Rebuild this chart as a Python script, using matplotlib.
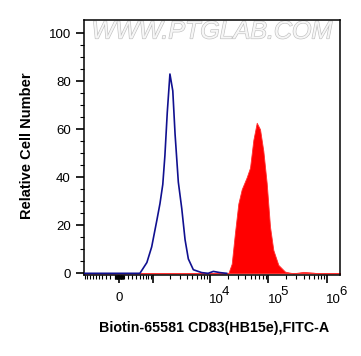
import numpy as np
import matplotlib
matplotlib.use("Agg")
import matplotlib.pyplot as plt
import matplotlib.patheffects as pe

plt.rcParams['font.family'] = ['Liberation Sans', 'DejaVu Sans']

# control (isotype) histogram - blue outline
blue_x = [-1100, 370, 510, 740, 930, 1170, 1340, 1510, 1650, 1820, 2030, 2280, 2500,
          2850, 3270, 3730, 4250, 5180, 7200, 9300, 11400, 14800, 19300]
blue_y = [0, 0, 0, 4.5, 11, 22, 29, 37, 49, 67, 83, 76, 58,
          38, 27, 14, 6, 1.5, 0.3, 0, 0.8, 0.3, 0]

# stained sample histogram - red fill
red_x = [-1100, 20570, 23530, 26770, 30500, 34890, 42440, 48370, 55090, 63000, 71730,
         81670, 93300, 106300, 121100, 147600, 192000, 266200, 394200, 577700, 703600, 1.8e6]
red_y = [0, 0, 4, 17, 29, 35, 40, 44, 55.5, 62.7, 60,
         51, 37.5, 19.4, 9.7, 3.5, 0.7, 0, 0.6, 0.3, 0, 0]

x_major = [0, 1e3, 1e4, 1e5, 1e6]
decades = [4, 5, 6]
y_major = [0, 20, 40, 60, 80, 100]

c = 281.0
def fwd(x):
    return np.arcsinh(np.asarray(x) / (2 * c)) / np.log(10)
def inv(y):
    return 2 * c * np.sinh(np.asarray(y) * np.log(10))

fig = plt.figure(figsize=(3.61, 3.56), dpi=100)
ax = fig.add_axes([84/361, 1-275/356, 256/361, 255/356])
ax.set_xscale('function', functions=(fwd, inv))

ax.fill_between(red_x, red_y, 0, color='#ff0000', lw=0.6, edgecolor='#ff3030', zorder=2)
ax.plot(blue_x, blue_y, color='#101090', lw=1.2, zorder=3)

ax.set_xlim(inv(-0.602), inv(3.774))
ax.set_ylim(-0.7, 105.5)

# minor ticks
minors = []
for m in [1, 2]:
    for k in range(1, 10):
        minors += [k * 10**m, -k * 10**m]
minors += [-1000]
for m in [3, 4, 5]:
    for k in range(2, 10):
        minors.append(k * 10**m)
ax.set_xticks(x_major)
ax.set_xticklabels([])
ax.set_xticks(minors, minor=True)
ax.set_xticklabels([], minor=True)
ax.set_yticks(y_major)
ax.set_yticks(np.arange(0, 105, 5), minor=True)

ax.tick_params(axis='both', which='major', length=6, width=1.2, labelsize=9.5, color='black')
ax.tick_params(axis='both', which='minor', length=3, width=0.8, color='black')
ax.tick_params(axis='y', which='major', pad=3.5)
for s in ax.spines.values():
    s.set_linewidth(1.1)

# x tick labels: "0" and 10 with full-size exponents
ax.annotate('0', xy=(0, 0), xycoords=('data', 'axes fraction'), xytext=(0, -23),
            textcoords='offset pixels', ha='center', va='center', fontsize=9.5)
for n in decades:
    ax.annotate('10', xy=(10.0**n, 0), xycoords=('data', 'axes fraction'), xytext=(-1, -25),
                textcoords='offset pixels', ha='left', va='center', fontsize=9.5)
    ax.annotate(str(n), xy=(10.0**n, 0), xycoords=('data', 'axes fraction'), xytext=(12, -17),
                textcoords='offset pixels', ha='left', va='center', fontsize=9.5)

fig.text(27/361, 1-146/356, 'Relative Cell Number', rotation=90, ha='center', va='center',
         fontsize=10.5, fontweight='bold')
fig.text(214/361, 1-328/356, 'Biotin-65581 CD83(HB15e),FITC-A', ha='center', va='center',
         fontsize=10.3, fontweight='bold')

ax.text(0.5, 0.955, 'WWW.PTGLAB.COM', transform=ax.transAxes, ha='center', va='center',
        fontsize=18, color='#f6f6f6', style='italic',
        path_effects=[pe.withStroke(linewidth=0.9, foreground='#c0c0c0')], zorder=1)

fig.savefig('out.png', dpi=100)
